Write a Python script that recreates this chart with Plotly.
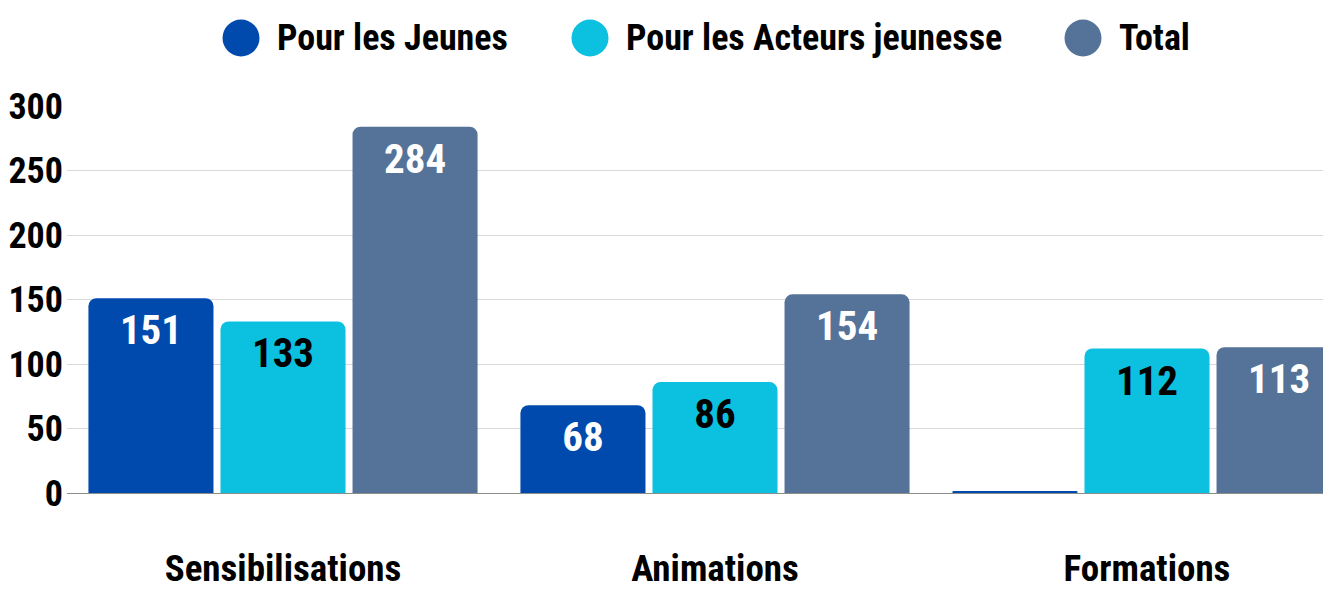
import plotly.graph_objects as go

categories = ["Sensibilisations", "Animations", "Formations"]
series_names = ["Pour les Jeunes", "Pour les Acteurs jeunesse", "Total"]
jeunes = [151, 68, 1]
acteurs = [133, 86, 112]
total = [284, 154, 113]
y_ticks = [0, 50, 100, 150, 200, 250, 300]

colors = ["#004AAD", "#0CC0DF", "#557398"]
text_colors = ["white", "black", "white"]
FONT = "Roboto Condensed"

OFF = 8  # page body margin
W, H = 1331 - OFF, 592 - OFF
L, R, T, B = 67 - OFF, 0, 106 - OFF, 99
plot_w = W - L - R
plot_h = H - T - B
cat_px = 432

fig = go.Figure()
for name, vals, col, tcol in zip(series_names, [jeunes, acteurs, total], colors, text_colors):
    fig.add_trace(go.Bar(
        x=categories, y=vals, name=name, marker=dict(color=col, line=dict(width=0)),
        text=[str(v) if v >= 10 else "" for v in vals],
        textposition="inside", insidetextanchor="end", textangle=0,
        textfont=dict(family=FONT, size=41, color=tcol, weight="bold"),
        showlegend=False, cliponaxis=True,
    ))

# custom legend (big circles), positions in page pixels
legend_circle_px = [241, 590, 1083]
legend_y_px = 38
shapes, annotations = [], []
for name, col, cx in zip(series_names, colors, legend_circle_px):
    xp = (cx - OFF - L) / plot_w
    yp = (H - B - (legend_y_px - OFF)) / plot_h
    shapes.append(dict(type="circle", xref="paper", yref="paper", xsizemode="pixel", ysizemode="pixel",
                       xanchor=xp, yanchor=yp, x0=-18.5, x1=18.5, y0=-18.5, y1=18.5,
                       fillcolor=col, line=dict(width=0)))
    annotations.append(dict(text=name, xref="paper", yref="paper", x=(cx - OFF + 34 - L) / plot_w, y=yp,
                            xanchor="left", yanchor="middle", showarrow=False,
                            font=dict(family=FONT, size=36, color="black", weight="bold")))

fig.update_layout(
    width=W, height=H,
    margin=dict(l=L, r=R, t=T, b=B, autoexpand=False),
    paper_bgcolor="white", plot_bgcolor="white",
    barmode="group", bargap=0.083, bargroupgap=0.053,
    barcornerradius=8,
    shapes=shapes, annotations=annotations,
    font=dict(family=FONT, color="black"),
    xaxis=dict(range=[-0.5, -0.5 + plot_w / cat_px], showgrid=False, showline=False, ticks="",
               automargin=False, ticklabelstandoff=50,
               tickfont=dict(family=FONT, size=37, color="black", weight="bold")),
    yaxis=dict(range=[0, 300], tickvals=y_ticks, showgrid=True, gridcolor="#d9d9d9", gridwidth=1,
               zeroline=True, zerolinecolor="#8c8c8c", zerolinewidth=1, showline=False, ticks="",
               automargin=False, ticklabelstandoff=3,
               tickfont=dict(family=FONT, size=36, color="black", weight="bold")),
)

fig.write_html("out.html")
